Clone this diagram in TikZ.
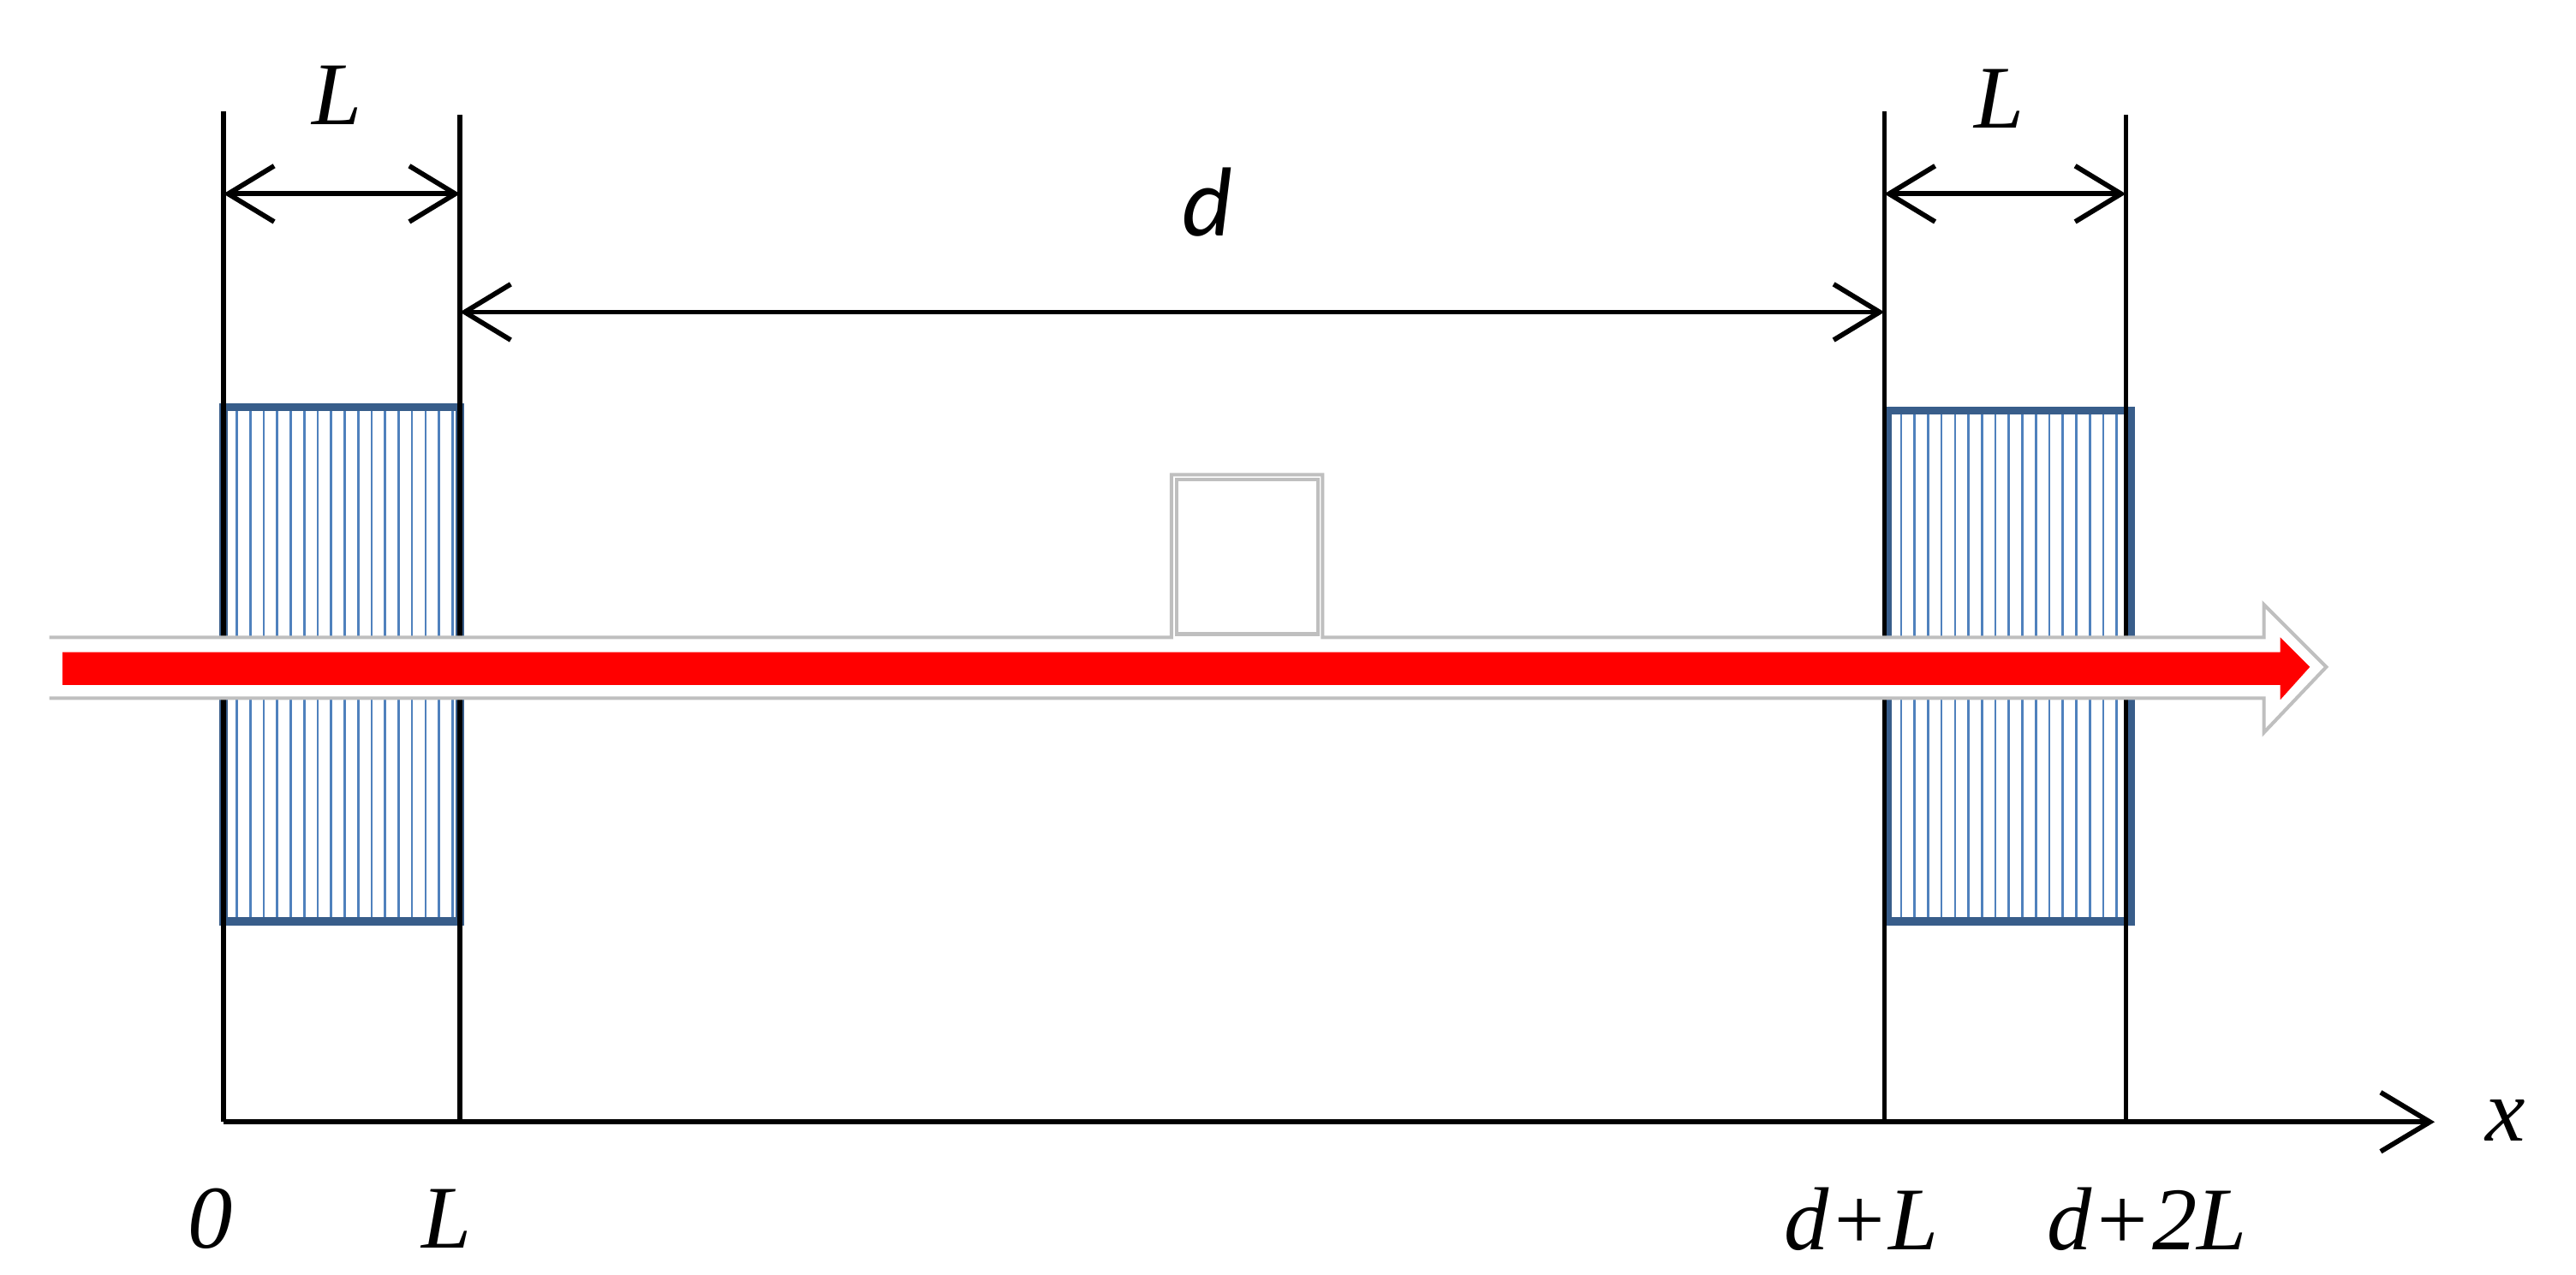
\documentclass[tikz,border=0pt]{standalone}
\usepackage{fontspec}
\setmainfont{Liberation Serif}
\newfontfamily\calib{Carlito}
\usetikzlibrary{arrows.meta}
\definecolor{boxblue}{HTML}{385D8A}
\definecolor{hatch}{HTML}{4F81BD}
\definecolor{arrgray}{HTML}{BFBFBF}
\begin{document}
\begin{tikzpicture}[x=0.1mm,y=-0.1mm,
  blk/.style={line width=0.85pt,black},
  dim/.style={line width=0.85pt,{Straight Barb[length=2.8mm,width=3.4mm]}-{Straight Barb[length=2.8mm,width=3.4mm]}},
  lab/.style={font=\fontsize{15.5}{18}\selectfont\itshape,inner sep=0pt},
  grid/.style={line width=1.4pt,boxblue}]
\useasboundingbox (0,0) rectangle (1568,776);
% coordinates
\coordinate (a0t) at (136,68); \coordinate (a0b) at (136,683);
\coordinate (aLt) at (280,70); \coordinate (aLb) at (280,683);
\coordinate (bLt) at (1147,68); \coordinate (bLb) at (1147,683);
\coordinate (b2t) at (1294,70); \coordinate (b2b) at (1294,683);
% boxes with hatch
\foreach \xa/\xb/\ya in {136/280/248,1149/1297/250}{
  \foreach \i in {1,...,17}{
    \pgfmathsetmacro\xx{\xa+\i*8.2}
    \ifdim\xx pt<\xb pt \draw[hatch,line width=0.4pt] (\xx,\ya) -- (\xx,561);\fi
  }
  \draw[grid] (\xa,\ya) rectangle (\xb,561);
}
% vertical lines
\foreach \t/\b in {a0t/a0b,aLt/aLb,bLt/bLb,b2t/b2b}{\draw[blk] (\t) -- (\b);}
% hollow arrow with bump
\fill[white] (30,388) -- (713,388) -- (713,289) -- (805,289) -- (805,388) -- (1378,388) -- (1378,368) -- (1416,406) -- (1378,446) -- (1378,425) -- (30,425) -- cycle;
\draw[arrgray,line width=0.6pt,line join=miter] (30,388) -- (713,388) -- (713,289) -- (805,289) -- (805,388) -- (1378,388) -- (1378,368) -- (1416,406) -- (1378,446) -- (1378,425) -- (30,425);
\draw[arrgray,line width=0.6pt] (716,292) rectangle (802,386);
% red arrow
\fill[red] (38,397) -- (1388,397) -- (1388,388) -- (1406,406) -- (1388,426) -- (1388,417) -- (38,417) -- cycle;
% dimension arrows
\coordinate (d1a) at (136,118); \coordinate (d1b) at (280,118);
\coordinate (d2a) at (280,190); \coordinate (d2b) at (1147,190);
\coordinate (d3a) at (1147,118); \coordinate (d3b) at (1294,118);
\draw[dim] (d1a) -- (d1b);
\draw[dim] (d2a) -- (d2b);
\draw[dim] (d3a) -- (d3b);
\node[lab] (l1) at (205,58) {L};
\node[lab,font=\fontsize{17}{20}\selectfont\calib\itshape] (ld) at (735,123) {d};
\node[lab] (l2) at (1217,60) {L};
% x axis
\coordinate (xa) at (136,683); \coordinate (xb) at (1482,683);
\draw[blk,-{Straight Barb[length=3mm,width=3.6mm]}] (xa) -- (xb);
\node[lab] (xl) at (1525,682) {x};
\node[lab] (t0) at (128,742) {0};
\node[lab] (tL) at (272,742) {L};
\node[lab] (tdL) at (1133,742) {d+L};
\node[lab] (td2L) at (1307,742) {d+2L};
\end{tikzpicture}
\end{document}
